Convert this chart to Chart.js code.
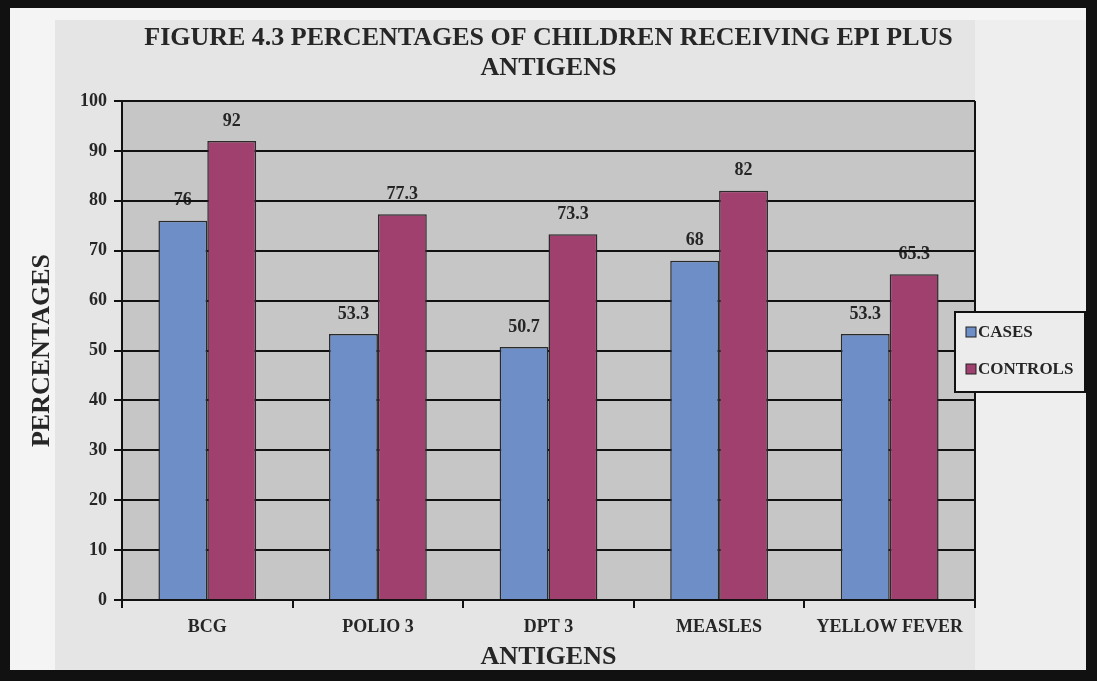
<!DOCTYPE html>
<html>
<head>
<meta charset="utf-8">
<script src="https://cdn.jsdelivr.net/npm/chart.js@4.4.1/dist/chart.umd.min.js"></script>
<style>
  html, body { margin: 0; padding: 0; background: #111; }
  #wrap { position: absolute; left: 10px; top: 8px; width: 1076px; height: 662px; }
</style>
</head>
<body>
<div id="wrap"><canvas id="barChart" width="1076" height="662"></canvas></div>
<script>
// --- DATA ---
const antigens = ['BCG', 'POLIO 3', 'DPT 3', 'MEASLES', 'YELLOW FEVER'];
const casesPct = [76, 53.3, 50.7, 68, 53.3];
const controlsPct = [92, 77.3, 73.3, 82, 65.3];
const seriesNames = ['CASES', 'CONTROLS'];
const seriesColors = ['#6d8ec6', '#a0406f'];

const serif = "'Liberation Serif', 'Times New Roman', serif";
const ink = '#262626';

// background, plot gray and value labels (drawn under the gridlines, like the scan)
const backdrop = {
    id: 'backdrop',
    beforeDraw(chart) {
        const { ctx, chartArea: a, width, height } = chart;
        ctx.save();
        ctx.fillStyle = '#e5e5e5';
        ctx.fillRect(0, 0, width, height);
        ctx.fillStyle = '#f4f4f4';
        ctx.fillRect(0, 0, 45, height);
        ctx.fillRect(0, 0, width, 12);
        ctx.fillStyle = '#eeeeee';
        ctx.fillRect(a.right, 12, width - a.right, height - 12);
        ctx.fillStyle = '#c6c6c6';
        ctx.fillRect(a.left, a.top, a.right - a.left, a.bottom - a.top);

        ctx.font = 'bold 18px ' + serif;
        ctx.fillStyle = ink;
        ctx.textAlign = 'center';
        ctx.textBaseline = 'middle';
        chart.data.datasets.forEach((ds, i) => {
            chart.getDatasetMeta(i).data.forEach((bar, j) => {
                ctx.fillText(String(ds.data[j]), bar.x, bar.y - 20);
            });
        });
        ctx.restore();
    },
    afterDraw(chart) {
        const { ctx, chartArea: a } = chart;
        ctx.save();
        // right edge of plot
        ctx.strokeStyle = '#111';
        ctx.lineWidth = 2;
        ctx.beginPath();
        ctx.moveTo(a.right, a.top);
        ctx.lineTo(a.right, a.bottom);
        ctx.stroke();

        // legend box
        const bx = 945, by = 304, bw = 130, bh = 80;
        ctx.fillStyle = '#ececec';
        ctx.fillRect(bx, by, bw, bh);
        ctx.lineWidth = 2;
        ctx.strokeRect(bx, by, bw, bh);
        ctx.font = 'bold 17px ' + serif;
        ctx.textBaseline = 'middle';
        ctx.textAlign = 'left';
        chart.data.datasets.forEach((ds, i) => {
            const y = by + 20 + i * 37;
            ctx.fillStyle = ds.backgroundColor;
            ctx.fillRect(bx + 11, y - 5, 10, 10);
            ctx.lineWidth = 1;
            ctx.strokeStyle = '#222';
            ctx.strokeRect(bx + 11, y - 5, 10, 10);
            ctx.fillStyle = ink;
            ctx.fillText(ds.label, bx + 23, y + 1);
        });
        ctx.restore();
    }
};

new Chart(document.getElementById('barChart'), {
    type: 'bar',
    data: {
        labels: antigens,
        datasets: [
            {
                label: seriesNames[0],
                data: casesPct,
                backgroundColor: seriesColors[0],
                borderColor: '#2a2a2a',
                borderWidth: 1.5,
                barPercentage: 1,
                categoryPercentage: 0.573
            },
            {
                label: seriesNames[1],
                data: controlsPct,
                backgroundColor: seriesColors[1],
                borderColor: '#2a2a2a',
                borderWidth: 1.5,
                barPercentage: 1,
                categoryPercentage: 0.573
            }
        ]
    },
    options: {
        responsive: false,
        animation: false,
        layout: { padding: { left: 0, right: 111, top: 0, bottom: 0 } },
        scales: {
            y: {
                min: 0,
                max: 100,
                ticks: {
                    stepSize: 10,
                    padding: 7,
                    color: ink,
                    font: { family: serif, size: 18, weight: 'bold' }
                },
                grid: { color: '#111', lineWidth: 2, tickLength: 8 },
                border: { color: '#111', width: 2 },
                title: {
                    display: true,
                    text: 'PERCENTAGES',
                    color: ink,
                    font: { family: serif, size: 26, weight: 'bold', lineHeight: 1 },
                    padding: { top: 19.5, bottom: 0 }
                },
                afterFit(scale) { scale.width = 112; }
            },
            x: {
                ticks: {
                    padding: 9,
                    color: ink,
                    font: { family: serif, size: 18, weight: 'bold' }
                },
                grid: { offset: true, drawOnChartArea: false, color: '#111', lineWidth: 2, tickLength: 8 },
                border: { color: '#111', width: 2 },
                title: {
                    display: true,
                    text: 'ANTIGENS',
                    color: ink,
                    font: { family: serif, size: 26, weight: 'bold', lineHeight: 1 },
                    padding: { top: 0, bottom: 0 }
                },
                afterFit(scale) { scale.height = 70; }
            }
        },
        plugins: {
            legend: { display: false },
            tooltip: { enabled: false },
            title: {
                display: true,
                fullSize: false,
                text: ['FIGURE 4.3 PERCENTAGES OF CHILDREN RECEIVING EPI PLUS', 'ANTIGENS'],
                color: ink,
                font: { family: serif, size: 26, weight: 'bold', lineHeight: 1.15 },
                padding: { top: 15, bottom: 18.2 }
            }
        }
    },
    plugins: [backdrop]
});
</script>
</body>
</html>
